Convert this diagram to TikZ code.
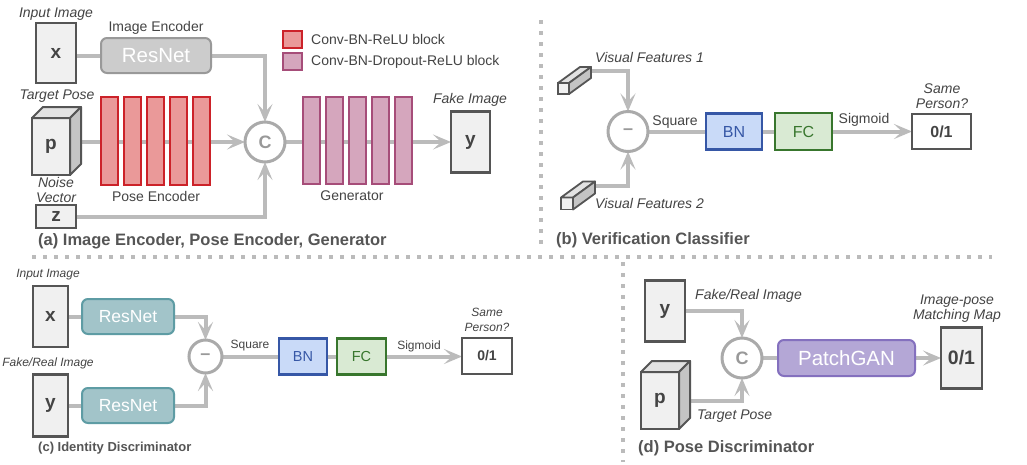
\documentclass[tikz,border=0pt]{standalone}
\usepackage{fontspec}
\setmainfont{Liberation Sans}
\usetikzlibrary{arrows.meta,calc}
\pgfdeclarelayer{back}
\pgfdeclarelayer{bg}
\pgfsetlayers{back,bg,main}
\definecolor{txt}{HTML}{444444}
\definecolor{capc}{HTML}{555555}
\definecolor{boxd}{HTML}{555555}
\definecolor{boxf}{HTML}{F0F0F0}
\definecolor{lineg}{HTML}{BBBBBB}
\definecolor{circd}{HTML}{AAAAAA}
\definecolor{circt}{HTML}{999999}
\definecolor{redf}{HTML}{EA9999}
\definecolor{redd}{HTML}{CC2229}
\definecolor{purf}{HTML}{D5A6BD}
\definecolor{purd}{HTML}{A64D79}
\definecolor{resgf}{HTML}{CCCCCC}
\definecolor{resgd}{HTML}{999999}
\definecolor{restf}{HTML}{A2C4C9}
\definecolor{restd}{HTML}{5E9CA4}
\definecolor{bnf}{HTML}{C9DAF8}
\definecolor{bnd}{HTML}{3657A6}
\definecolor{fcf}{HTML}{D9EAD3}
\definecolor{fcd}{HTML}{38762D}
\definecolor{pgf}{HTML}{B4A7D6}
\definecolor{pgd}{HTML}{8470BE}
\definecolor{topf}{HTML}{E2E2E2}
\definecolor{sidef}{HTML}{C4C4C4}
\newcommand{\cubefaces}[4]{%
  \filldraw[draw=boxd,fill=topf,line width=#4,line join=round]
    (#1.north west) -- ++(#2,-#3) -- ($(#1.north east)+(#2,-#3)$) -- (#1.north east) -- cycle;
  \filldraw[draw=boxd,fill=sidef,line width=#4,line join=round]
    (#1.north east) -- ++(#2,-#3) -- ($(#1.south east)+(#2,-#3)$) -- (#1.south east) -- cycle;}
\begin{document}
\begin{tikzpicture}[x=1pt,y=-1pt,
  lab/.style={font=\fontsize{14}{15}\selectfont, text=txt, inner sep=0pt},
  ilab/.style={font=\fontsize{14}{15}\selectfont\itshape, text=txt, inner sep=0pt},
  labs/.style={font=\fontsize{12}{15}\selectfont, text=txt, inner sep=0pt},
  ilabs/.style={font=\fontsize{12}{15}\selectfont\itshape, text=txt, inner sep=0pt},
  captxt/.style={font=\fontsize{16.5}{18}\selectfont\bfseries, text=capc, anchor=west, inner sep=0pt},
  imgbox/.style={draw=boxd, line width=2.5pt, fill=boxf, font=\fontsize{19}{20}\selectfont\bfseries, text=txt, inner sep=0pt, outer sep=0pt},
  outbox/.style={draw=boxd, line width=2.5pt, fill=white, font=\fontsize{16}{18}\selectfont\bfseries, text=txt, inner sep=0pt, outer sep=0pt},
  resg/.style={draw=resgd, line width=2pt, fill=resgf, rounded corners=6pt, font=\fontsize{20.5}{22}\selectfont, text=white, inner sep=0pt, outer sep=0pt},
  resteal/.style={draw=restd, line width=2pt, fill=restf, rounded corners=6pt, font=\fontsize{17.5}{20}\selectfont, text=white, inner sep=0pt, outer sep=0pt, minimum width=92pt, minimum height=35pt},
  pgbox/.style={draw=pgd, line width=2pt, fill=pgf, rounded corners=6pt, font=\fontsize{20.5}{22}\selectfont, text=white, inner sep=0pt, outer sep=0pt},
  bnbox/.style={draw=bnd, line width=2.5pt, fill=bnf, font=\fontsize{16}{18}\selectfont, text=bnd, inner sep=0pt, outer sep=0pt},
  fcbox/.style={draw=fcd, line width=2.5pt, fill=fcf, font=\fontsize{16}{18}\selectfont, text=fcd, inner sep=0pt, outer sep=0pt},
  redblk/.style={draw=redd, line width=2.5pt, fill=redf, minimum width=17pt, minimum height=88pt, inner sep=0pt, outer sep=0pt},
  purblk/.style={draw=purd, line width=2.5pt, fill=purf, minimum width=17pt, minimum height=87pt, inner sep=0pt, outer sep=0pt},
  opc/.style={circle, draw=circd, line width=3pt, fill=white, minimum size=40pt, inner sep=0pt, outer sep=0pt, font=\fontsize{18}{20}\selectfont\bfseries, text=circt},
  prism/.style={draw=boxd, line width=1.8pt, fill=boxf, inner sep=0pt, outer sep=0pt},
  conn/.style={draw=lineg, line width=4pt},
  arr/.style={-{Stealth[length=18pt,width=15pt,inset=8pt]}},
  divider/.style={draw=lineg, line width=3.5pt, dash pattern=on 3.5pt off 7.5pt}
]
\begin{pgfonlayer}{back}
\fill[white] (0,0) rectangle (1027,464);
\end{pgfonlayer}
\useasboundingbox (0,0) rectangle (1027,464);

% separators
\draw[divider] (541,20) -- (541,250);
\draw[divider] (32,257) -- (992,257);
\draw[divider] (623,262) -- (623,462);

% ---------------- (a)
\node[ilab] (tin) at (56,14) {Input Image};
\node[imgbox, minimum width=40pt, minimum height=60pt] (xa) at (56,53) {x};
\node[lab] (tenc) at (156,28) {Image Encoder};
\node[resg, minimum width=110pt, minimum height=35pt] (resa) at (156,55.5) {ResNet};
\node[ilab] (ttp) at (57,96) {Target Pose};
\node[imgbox, minimum width=38pt, minimum height=57pt] (pa) at (51,146.5) {p};
\cubefaces{pa}{11}{11}{2pt}
\foreach \i in {0,...,4} \node[redblk] (pe\i) at (109.5+23*\i,141) {};
\node[lab] (tpe) at (156,196) {Pose Encoder};
\node[opc] (ca) at (265,142) {C};
\node[ilab, align=center] (tnv) at (56,189.5) {Noise\\Vector};
\node[imgbox, minimum width=40pt, minimum height=23pt] (za) at (56,216.5) {z};
\foreach \i in {0,...,4} \node[purblk] (ge\i) at (311.5+23*\i,140.5) {};
\node[lab] (tgen) at (352,196) {Generator};
\node[ilab] (tfi) at (470,100) {Fake Image};
\node[imgbox, minimum width=39pt, minimum height=61pt] (ya) at (470.5,142) {y};
\node[redblk, minimum width=19pt, minimum height=17pt] (lg1) at (292.5,39.5) {};
\node[lab, anchor=west] (lt1) at (311,39) {Conv-BN-ReLU block};
\node[purblk, minimum width=19pt, minimum height=17pt] (lg2) at (292.5,61.5) {};
\node[lab, anchor=west] (lt2) at (311,61.5) {Conv-BN-Dropout-ReLU block};
\node[captxt] (capa) at (38,241) {(a) Image Encoder, Pose Encoder, Generator};

% ---------------- (b)
\node[prism, minimum width=11pt, minimum height=11pt] (f1) at (563.5,88.5) {};
\cubefaces{f1}{22}{16}{1.8pt}
\node[ilab, anchor=west] (tvf1) at (595,57) {Visual Features 1};
\node[prism, minimum width=12pt, minimum height=12pt] (f2) at (567,203.5) {};
\cubefaces{f2}{22}{16}{1.8pt}
\node[ilab, anchor=west] (tvf2) at (595,203) {Visual Features 2};
\coordinate (f1o) at (590,71);
\coordinate (f2o) at (594,186);
\node[opc] (mb) at (628,131.5) {--};
\node[lab] (tsq) at (675,122) {Square};
\node[bnbox, minimum width=56pt, minimum height=36pt] (bnb) at (734,131.5) {BN};
\node[fcbox, minimum width=57pt, minimum height=37pt] (fcb) at (803.5,131.5) {FC};
\node[lab] (tsg) at (864,120) {Sigmoid};
\node[outbox, minimum width=59pt, minimum height=35pt] (ob) at (941.5,131.5) {0/1};
\node[ilab, align=center] (tsp) at (942,96.5) {Same\\Person?};
\node[captxt] (capb) at (556,240) {(b) Verification Classifier};

% ---------------- (c)
\node[ilabs] (tin2) at (48,275) {Input Image};
\node[imgbox, minimum width=35pt, minimum height=61pt] (xc) at (50.5,316.5) {x};
\node[resteal] (rc1) at (128,316.5) {ResNet};
\node[opc, minimum size=33pt] (mc) at (205.5,356.5) {--};
\node[ilabs] (tfr) at (48,363) {Fake/Real Image};
\node[imgbox, minimum width=35pt, minimum height=62pt] (yc) at (50.5,405.5) {y};
\node[resteal] (rc2) at (128,405.5) {ResNet};
\node[labs] (tsq2) at (250,346) {Square};
\node[bnbox, minimum width=48pt, minimum height=36pt, font=\fontsize{14.5}{16}\selectfont] (bnc) at (303,356.5) {BN};
\node[fcbox, minimum width=49pt, minimum height=36pt, font=\fontsize{14.5}{16}\selectfont] (fcc) at (361.5,356.5) {FC};
\node[labs] (tsg2) at (419,346) {Sigmoid};
\node[outbox, minimum width=50pt, minimum height=36pt, font=\fontsize{14}{16}\selectfont\bfseries] (oc) at (487,356) {0/1};
\node[ilabs, align=center] (tsp2) at (487,320) {Same\\Person?};
\node[captxt, font=\fontsize{13}{15}\selectfont\bfseries] (capc) at (38,448) {(c) Identity Discriminator};

% ---------------- (d)
\node[imgbox, minimum width=40pt, minimum height=61pt] (yd) at (665,311) {y};
\node[ilab, anchor=west] (tfr2) at (695,296) {Fake/Real Image};
\node[opc] (cd) at (742,358) {C};
\node[imgbox, minimum width=38pt, minimum height=57pt] (pd) at (660,400.5) {p};
\cubefaces{pd}{11}{11}{2pt}
\node[ilab, anchor=west] (ttp2) at (697,416) {Target Pose};
\node[pgbox, minimum width=137pt, minimum height=36pt] (pg) at (846.5,358) {PatchGAN};
\node[imgbox, minimum width=41pt, minimum height=61pt, font=\fontsize{19.5}{21}\selectfont\bfseries] (od) at (961.5,358) {0/1};
\node[ilab, align=center] (tim) at (957,309) {Image-pose\\Matching Map};
\node[captxt] (capd) at (638,448) {(d) Pose Discriminator};

% ---------------- connectors
\begin{pgfonlayer}{bg}
\draw[conn] (resa.west -| xa.east) -- (resa.west);
\draw[conn, arr] (resa.east) -| (ca.north);
\draw[conn, arr] (ca.west -| pa.east) -- (ca.west);
\draw[conn, arr] (za.east) -| (ca.south);
\draw[conn, arr] (ca.east) -- (ca.east -| ya.west);

\draw[conn, arr] (f1o) -| (mb.north);
\draw[conn, arr] (f2o) -| (mb.south);
\draw[conn] (mb.east) -- (bnb.west);
\draw[conn] (bnb.east) -- (fcb.west);
\draw[conn, arr] (fcb.east) -- (ob.west);

\draw[conn] (xc.east) -- (rc1.west);
\draw[conn] (yc.east) -- (rc2.west);
\draw[conn, arr] (rc1.east) -| (mc.north);
\draw[conn, arr] (rc2.east) -| (mc.south);
\draw[conn] (mc.east) -- (bnc.west);
\draw[conn] (bnc.east) -- (fcc.west);
\draw[conn, arr] (fcc.east) -- (fcc.east -| oc.west);

\draw[conn, arr] (yd.east) -| (cd.north);
\draw[conn, arr] (pd.east) -| (cd.south);
\draw[conn] (cd.east) -- (pg.west);
\draw[conn, arr] (pg.east) -- (od.west);
\end{pgfonlayer}
\end{tikzpicture}
\end{document}
